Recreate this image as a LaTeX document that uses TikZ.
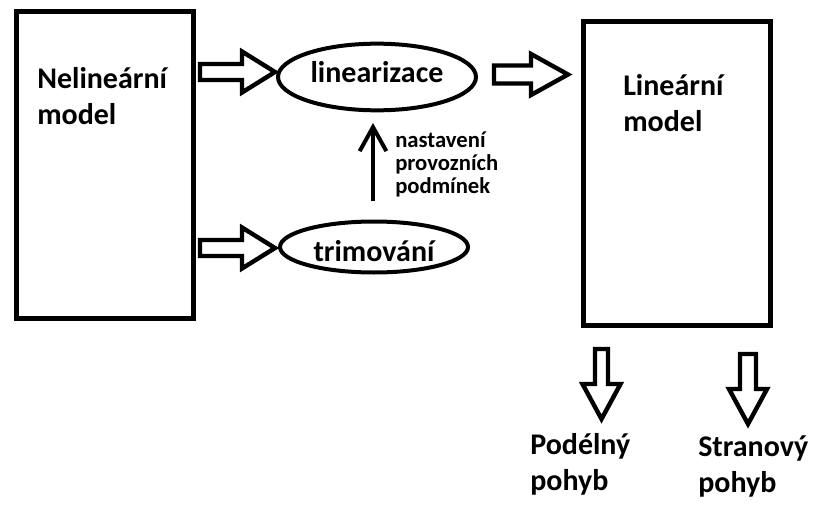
\documentclass[tikz,border=0pt]{standalone}
\usepackage{fontspec}
\setmainfont{Carlito}
\usetikzlibrary{arrows.meta,shapes.geometric,calc}
\tikzset{
  bigtext/.style={font=\fontsize{22.5pt}{27pt}\selectfont\bfseries},
  smalltext/.style={font=\fontsize{17pt}{17.25pt}\selectfont\bfseries},
  modelbox/.style={draw, line width=3.75pt, inner sep=0pt},
  oval/.style={draw, ellipse, line width=3pt, inner sep=0pt, bigtext},
  lbl/.style={inner sep=0pt, align=left, anchor=base west},
  arrowline/.style={draw, line width=3.3pt, line join=miter, fill=white},
  pics/barrow/.style n args={4}{code={
    \path[arrowline] (0,-#2) -- (#3,-#2) -- (#3,-#4) -- (#1,0) -- (#3,#4) -- (#3,#2) -- (0,#2) -- cycle;}},
  uparrow/.style={line width=3pt, -{Straight Barb[length=18pt,width=20pt,line width=3pt]}}
}
\begin{document}
\begin{tikzpicture}[x=0.75pt,y=-0.75pt]
\useasboundingbox (0,0) rectangle (816,506);
\fill[white] (0,0) rectangle (816,506);

% boxes
\node[modelbox, minimum width=132.75pt, minimum height=229.5pt] (nl) at (104.5,165) {};
\node[modelbox, minimum width=140.25pt, minimum height=227.25pt] (ln) at (676.5,173.5) {};
\node[lbl, bigtext] (nltext) at (37,125) {Nelineární\\model};
\node[lbl, bigtext] (lntext) at (623,132) {Lineární\\model};

% ovals
\node[oval, minimum width=148.5pt, minimum height=50pt, text height=15.75pt, text depth=8pt] (lin) at (377,77) {linearizace};
\node[oval, minimum width=141pt, minimum height=38.25pt, text height=21pt, text depth=0pt] (trim) at (374,247) {trimování};

% vertical arrow
\draw[uparrow, shorten <=14pt, shorten >=8pt] (trim.north -| 373,0) -- (lin.south -| 373,0);
\node[lbl, smalltext] (cond) at (395,193) {nastavení\\provozních\\podmínek};

% block arrows
\pic at (200,72) {barrow={75}{8}{42}{20.5}};
\pic at (200,248) {barrow={75}{8}{42}{20.5}};
\pic at (494,74.5) {barrow={74}{9}{37}{20.5}};
\pic[rotate=-90] at (601.5,349) {barrow={70}{6.5}{35}{19}};
\pic[rotate=-90] at (748,354) {barrow={70}{8}{35}{19}};

% outputs
\node[lbl, bigtext] (pod) at (530,490) {Podélný\\pohyb};
\node[lbl, bigtext] (str) at (698,492) {Stranový\\pohyb};
\end{tikzpicture}
\end{document}
